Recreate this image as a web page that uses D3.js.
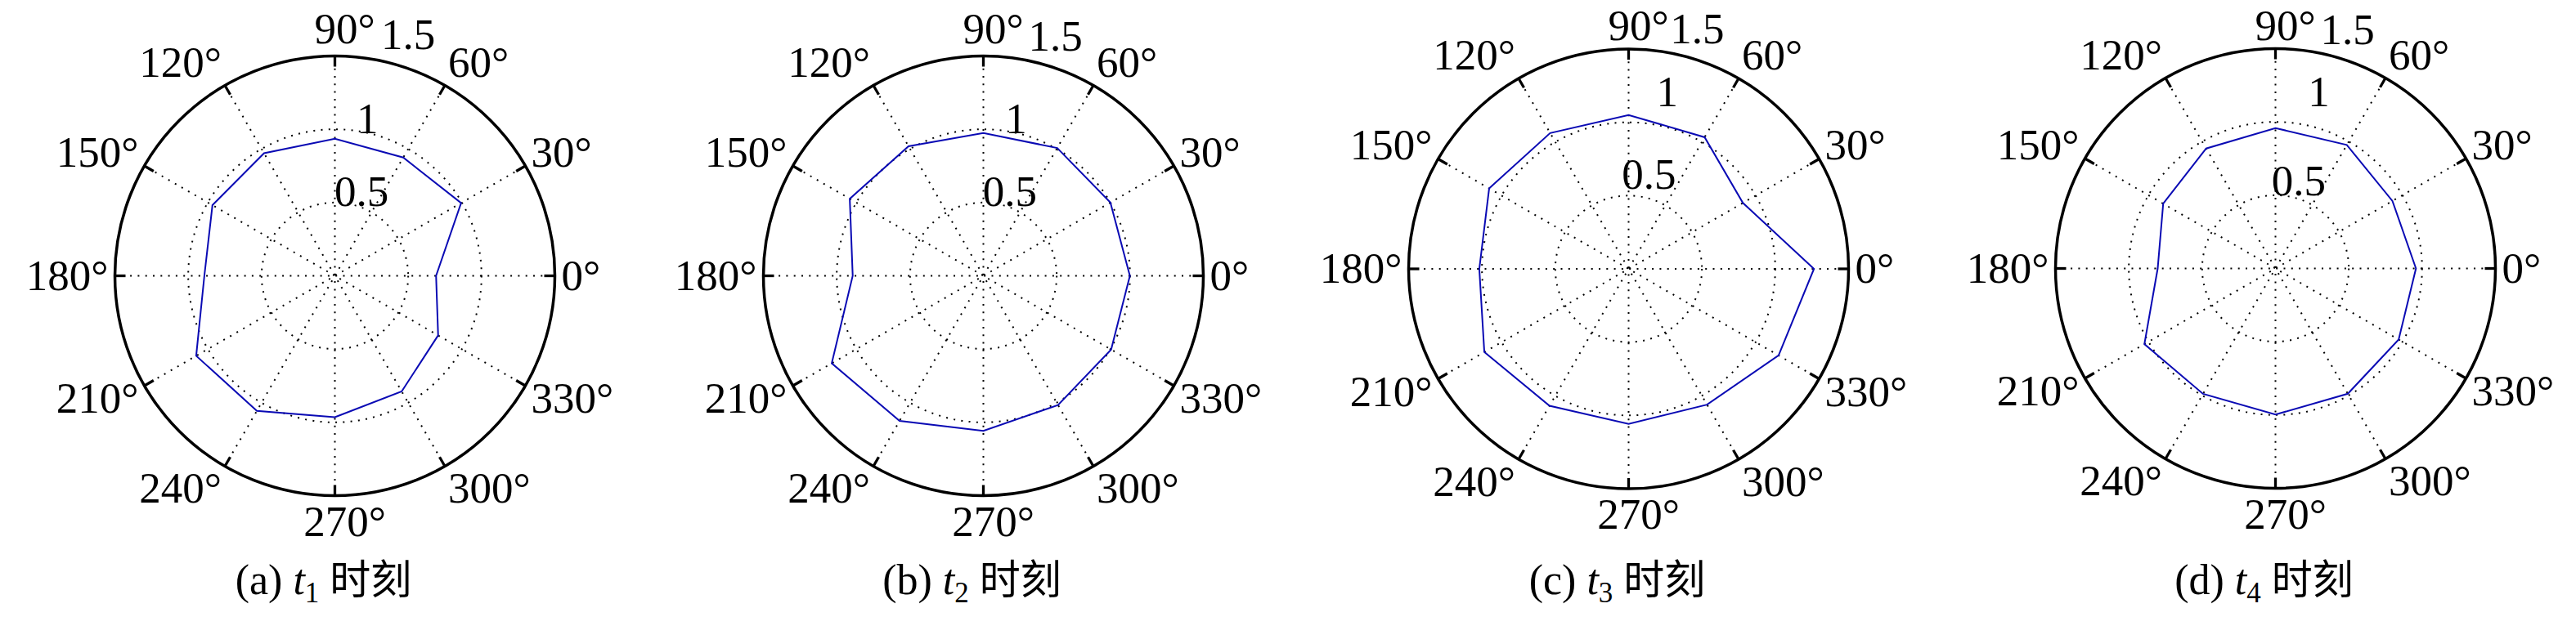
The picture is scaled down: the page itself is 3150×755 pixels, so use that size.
<!DOCTYPE html>
<html>
<head>
<meta charset="utf-8">
<script src="https://cdn.jsdelivr.net/npm/d3@7"></script>
<style>
  body { margin: 0; background: #fff; }
  svg { display: block; }
</style>
</head>
<body>
<svg id="chart" width="3150" height="755"></svg>
<script>
// angles of the samples (deg) and the radial ticks
var angles = [0, 30, 60, 90, 120, 150, 180, 210, 240, 270, 300, 330];
var rTicks = [0.5, 1, 1.5];

// values
var seriesT1 = [0.69, 0.994, 0.932, 0.935, 0.966, 0.964, 0.89, 1.092, 1.064, 0.965, 0.911, 0.813];
var seriesT2 = [0.999, 1.0, 1.007, 0.975, 1.021, 1.052, 0.891, 1.194, 1.143, 1.058, 1.018, 1.006];
var seriesT3 = [1.264, 0.90, 1.037, 1.05, 1.07, 1.098, 1.018, 1.136, 1.079, 1.058, 1.07, 1.181];
var seriesT4 = [0.958, 0.921, 0.973, 0.958, 0.945, 0.884, 0.803, 1.032, 0.988, 0.997, 0.987, 0.97];

var panelTags = ["(a)", "(b)", "(c)", "(d)"];
var panelSubs = ["1", "2", "3", "4"];
var series = [seriesT1, seriesT2, seriesT3, seriesT4];

// layout (pixels)
var centersX = [409.5, 1202.5, 1991.5, 2782.5];
var centersY = [337.5, 337.5, 329, 328.5];
var R = 269;
// where the 0.5 / 1 / 1.5 labels sit, in radial units (x right, y up)
var rLabelPos = [
  [[-0.003, 0.476], [0.148, 0.973], [0.315, 1.545]],
  [[-0.004, 0.477], [0.149, 0.972], [0.307, 1.538]],
  [[-0.046, 0.547], [0.19, 1.11], [0.283, 1.538]],
  [[-0.027, 0.5], [0.221, 1.107], [0.306, 1.531]]
];

var svg = d3.select("#chart");
var rScale = d3.scaleLinear().domain([0, 1.5]).range([0, R]);
var serif = "'Liberation Serif'";
var cjk = "'Noto Sans CJK SC'";
var dotted = "2 7.3";

function rad(deg) { return deg * Math.PI / 180; }

series.forEach(function(vals, i) {
  var cx = centersX[i], cy = centersY[i];
  var g = svg.append("g").attr("transform", "translate(" + cx + "," + cy + ")");

  // dotted rings
  g.selectAll("circle.ring")
    .data(rTicks.slice(0, -1))
    .enter().append("circle")
    .attr("class", "ring")
    .attr("r", function(d) { return rScale(d); })
    .attr("fill", "none")
    .attr("stroke", "#000")
    .attr("stroke-width", 2)
    .attr("stroke-dasharray", dotted);

  // dotted spokes (diameters)
  g.selectAll("line.spoke")
    .data(angles.slice(0, 6))
    .enter().append("line")
    .attr("class", "spoke")
    .attr("x1", function(d) { return -rScale(1.5) * Math.cos(rad(d)); })
    .attr("y1", function(d) { return rScale(1.5) * Math.sin(rad(d)); })
    .attr("x2", function(d) { return rScale(1.5) * Math.cos(rad(d)); })
    .attr("y2", function(d) { return -rScale(1.5) * Math.sin(rad(d)); })
    .attr("stroke", "#000")
    .attr("stroke-width", 2)
    .attr("stroke-dasharray", dotted);

  // outer circle
  g.append("circle")
    .attr("r", rScale(1.5))
    .attr("fill", "none")
    .attr("stroke", "#000")
    .attr("stroke-width", 3.5);

  // ticks on the outer circle
  g.selectAll("line.tick")
    .data(angles)
    .enter().append("line")
    .attr("class", "tick")
    .attr("x1", function(d) { return (rScale(1.5) - 13) * Math.cos(rad(d)); })
    .attr("y1", function(d) { return -(rScale(1.5) - 13) * Math.sin(rad(d)); })
    .attr("x2", function(d) { return rScale(1.5) * Math.cos(rad(d)); })
    .attr("y2", function(d) { return -rScale(1.5) * Math.sin(rad(d)); })
    .attr("stroke", "#000")
    .attr("stroke-width", 3.3);

  // data polygon
  var line = d3.lineRadial()
    .angle(function(d) { return Math.PI / 2 - rad(d[0]); })
    .radius(function(d) { return rScale(d[1]); })
    .curve(d3.curveLinearClosed);
  g.append("path")
    .datum(angles.map(function(a, k) { return [a, vals[k]]; }))
    .attr("d", line)
    .attr("fill", "none")
    .attr("stroke", "#0a0ab4")
    .attr("stroke-width", 2);

  // angle labels
  g.selectAll("text.ang")
    .data(angles)
    .enter().append("text")
    .attr("class", "ang")
    .style("font-family", serif)
    .style("font-size", "53px")
    .attr("text-anchor", function(d) {
      var c = Math.cos(rad(d));
      return Math.abs(c) < 0.1 ? "middle" : (c > 0 ? "start" : "end");
    })
    .attr("x", function(d) {
      var c = Math.cos(rad(d));
      return Math.abs(c) < 0.1 ? 12 : 1.03 * R * c;
    })
    .attr("y", function(d) {
      // keep the top label inside the picture
      return Math.max(-1.12 * R * Math.sin(rad(d)) + 17, 49 - cy);
    })
    .text(function(d) { return d + "°"; });

  // radial labels
  g.selectAll("text.rlab")
    .data(rTicks)
    .enter().append("text")
    .attr("class", "rlab")
    .style("font-family", serif)
    .style("font-size", "53px")
    .attr("x", function(d, k) { return rScale(rLabelPos[i][k][0]); })
    .attr("y", function(d, k) { return -rScale(rLabelPos[i][k][1]); })
    .text(function(d) { return d; });

  // caption
  var cap = svg.append("text")
    .attr("x", cx - 14)
    .attr("y", 727)
    .attr("text-anchor", "middle")
    .style("font-family", serif)
    .style("font-size", "52px");
  cap.append("tspan").text(panelTags[i] + " ");
  cap.append("tspan").style("font-style", "italic").text("t");
  cap.append("tspan").style("font-size", "35px").attr("dy", 10).text(panelSubs[i]);
  cap.append("tspan").attr("dy", -10).text(" ");
  cap.append("tspan")
    .style("font-family", cjk)
    .style("font-size", "50px")
    .text("时刻");
});
</script>
</body>
</html>
